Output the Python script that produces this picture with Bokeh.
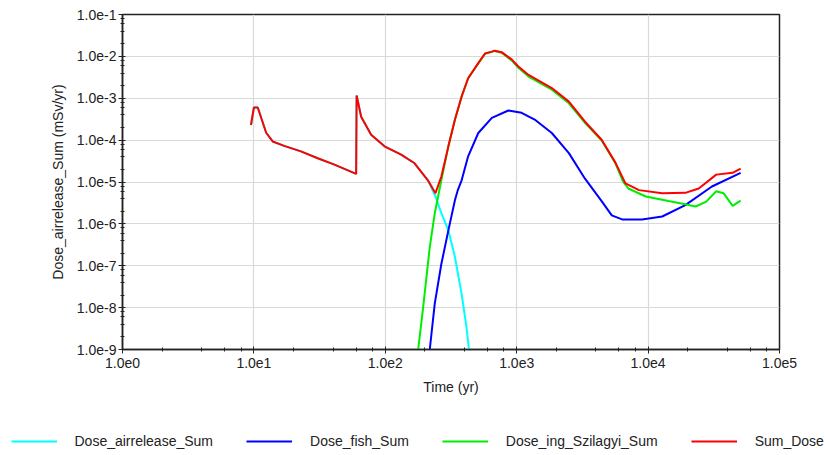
from bokeh.plotting import figure
from bokeh.models import (LogTicker, CustomJSTickFormatter, Legend, LegendItem,
                          ColumnDataSource, Range1d)
from bokeh.embed import file_html
from bokeh.resources import INLINE

# ---------------- data ----------------
air_t = [9.5, 10.0, 10.7, 12.4, 13.9, 17, 22.8, 30.6, 41, 60, 60.5, 65.5, 78, 98.6,
         132, 167, 211, 241, 267, 302, 339, 381, 415, 433]
air_v = [2.3e-4, 6e-4, 6e-4, 1.5e-4, 9.3e-5, 7.3e-5, 5.4e-5, 3.7e-5, 2.6e-5, 1.56e-5,
         1.17e-3, 3.6e-4, 1.35e-4, 7.1e-5, 4.5e-5, 2.8e-5, 1.1e-5, 4.5e-6, 1.8e-6,
         7e-7, 1.6e-7, 2.1e-8, 3.4e-9, 1e-9]

fish_t = [218, 238, 267, 302, 339, 357, 381, 427, 510, 647, 864, 1090, 1370, 1850,
          2495, 3310, 4430, 5290, 6340, 9000, 12800, 19200, 30600, 50600]
fish_v = [1e-9, 1.26e-8, 1.1e-7, 7e-7, 3.7e-6, 6.5e-6, 1.1e-5, 4.1e-5, 1.48e-4, 3.4e-4,
          5.1e-4, 4.5e-4, 3.1e-4, 1.48e-4, 4.9e-5, 1.2e-5, 3.5e-6, 1.6e-6, 1.28e-6,
          1.28e-6, 1.5e-6, 2.8e-6, 7.8e-6, 1.66e-5]

ing_t = [178, 194, 218, 238, 267, 302, 339, 381, 427, 510, 574, 647, 680, 768, 915,
         1025, 1230, 1850, 2495, 3310, 4430, 5640, 6470, 7070, 9600, 14300, 19200,
         23000, 27700, 33000, 37500, 44000, 50600]
ing_v = [1e-9, 1e-8, 2.8e-7, 1.8e-6, 1.1e-5, 7.1e-5, 3.1e-4, 1.1e-3, 3.0e-3, 6.8e-3,
         1.15e-2, 1.28e-2, 1.35e-2, 1.22e-2, 8.0e-3, 5.4e-3, 3.3e-3, 1.6e-3, 7.6e-4,
         2.6e-4, 9.8e-5, 2.8e-5, 1.0e-5, 7e-6, 4.5e-6, 3.5e-6, 2.95e-6, 2.6e-6,
         3.4e-6, 6e-6, 5.4e-6, 2.7e-6, 3.6e-6]

sum_t = [9.5, 10.0, 10.7, 12.4, 13.9, 17, 22.8, 30.6, 41, 60, 60.5, 65.5, 78, 98.6,
         132, 167, 211, 241, 267, 302, 339, 381, 427, 510, 574, 647, 680, 768, 915,
         1025, 1230, 1850, 2495, 3310, 4430, 5640, 6720, 8530, 12800, 19200, 24300,
         33000, 44000, 50600]
sum_v = [2.3e-4, 6e-4, 6e-4, 1.5e-4, 9.3e-5, 7.3e-5, 5.4e-5, 3.7e-5, 2.6e-5, 1.56e-5,
         1.17e-3, 3.6e-4, 1.35e-4, 7.1e-5, 4.5e-5, 2.8e-5, 1.1e-5, 5.4e-6, 1.35e-5,
         7.1e-5, 3.1e-4, 1.1e-3, 3.0e-3, 6.9e-3, 1.17e-2, 1.3e-2, 1.37e-2, 1.26e-2,
         8.5e-3, 5.8e-3, 3.6e-3, 1.75e-3, 8.3e-4, 2.75e-4, 1.02e-4, 2.9e-5, 9.3e-6,
         6.4e-6, 5.4e-6, 5.5e-6, 7e-6, 1.5e-5, 1.66e-5, 2.1e-5]

series_names = ["Dose_airrelease_Sum", "Dose_fish_Sum", "Dose_ing_Szilagyi_Sum", "Sum_Dose"]
series_colors = ["#00ffff", "#0000ff", "#00ee00", "#ff0000"]

x_title = "Time (yr)"
y_title = "Dose_airrelease_Sum (mSv/yr)"

# ---------------- main figure ----------------
FONT = "Liberation Sans"
p = figure(width=825, height=415, x_axis_type="log", y_axis_type="log",
           x_range=Range1d(1, 1e5), y_range=Range1d(1e-9, 1e-1),
           output_backend="svg", toolbar_location=None,
           min_border_left=122, min_border_right=46, min_border_top=14,
           min_border_bottom=66, background_fill_color="white",
           border_fill_color="white")
p.outline_line_color = "#222222"
p.outline_line_width = 1.5

fmt = CustomJSTickFormatter(code='return "1.0e" + Math.round(Math.log10(tick));')
p.xaxis.ticker = LogTicker(desired_num_ticks=6)
p.yaxis.ticker = LogTicker(desired_num_ticks=10)
for ax in (p.xaxis[0], p.yaxis[0]):
    ax.formatter = fmt
    ax.axis_line_color = "#222222"
    ax.axis_line_width = 1.5
    ax.major_tick_line_color = "#222222"
    ax.minor_tick_line_color = "#222222"
    ax.major_tick_in = 3
    ax.major_tick_out = 4
    ax.minor_tick_in = 2
    ax.minor_tick_out = 2
    ax.major_label_text_font = FONT
    ax.major_label_text_font_size = "14px"
    ax.major_label_text_color = "#222222"
    ax.axis_label_text_font = FONT
    ax.axis_label_text_font_size = "14px"
    ax.axis_label_text_font_style = "normal"
    ax.axis_label_text_color = "#222222"

p.xaxis.axis_label = x_title
p.yaxis.axis_label = y_title
p.xaxis.major_label_standoff = 4
p.yaxis.major_label_standoff = 2
p.xaxis.axis_label_standoff = 8
p.yaxis.axis_label_standoff = 8

p.xgrid.grid_line_color = "#d9d9d9"
p.ygrid.grid_line_color = "#d9d9d9"
p.xgrid.grid_line_width = 1.2
p.ygrid.grid_line_width = 1.2

# ---------------- legend strip (separate root, not frame-aligned) ----------------
leg = figure(width=825, height=40, x_range=Range1d(0, 1), y_range=Range1d(0, 1),
             output_backend="svg", toolbar_location=None,
             x_axis_location=None, y_axis_location=None,
             min_border_left=0, min_border_right=0, min_border_top=0,
             min_border_bottom=0, outline_line_color=None,
             background_fill_color="white", border_fill_color="white")
leg.xgrid.visible = False
leg.ygrid.visible = False

data = [(air_t, air_v), (fish_t, fish_v), (ing_t, ing_v), (sum_t, sum_v)]
items = []
for (t, v), name, col in zip(data, series_names, series_colors):
    src = ColumnDataSource(dict(t=t, v=v))
    p.line("t", "v", source=src, line_color=col, line_width=2)
    r2 = leg.line("t", "v", source=src, line_color=col, line_width=2, visible=False)
    items.append(LegendItem(label=name, renderers=[r2]))

legend = Legend(items=items, orientation="horizontal", location=(10.5, 4),
                glyph_width=46, glyph_height=20, label_standoff=18, spacing=33,
                padding=0, margin=0, border_line_color=None,
                background_fill_alpha=0, label_text_font=FONT,
                label_text_font_size="14px", label_text_color="#222222",
                click_policy="none")
leg.add_layout(legend, "center")

open("out.html", "w").write(file_html([p, leg], INLINE))
